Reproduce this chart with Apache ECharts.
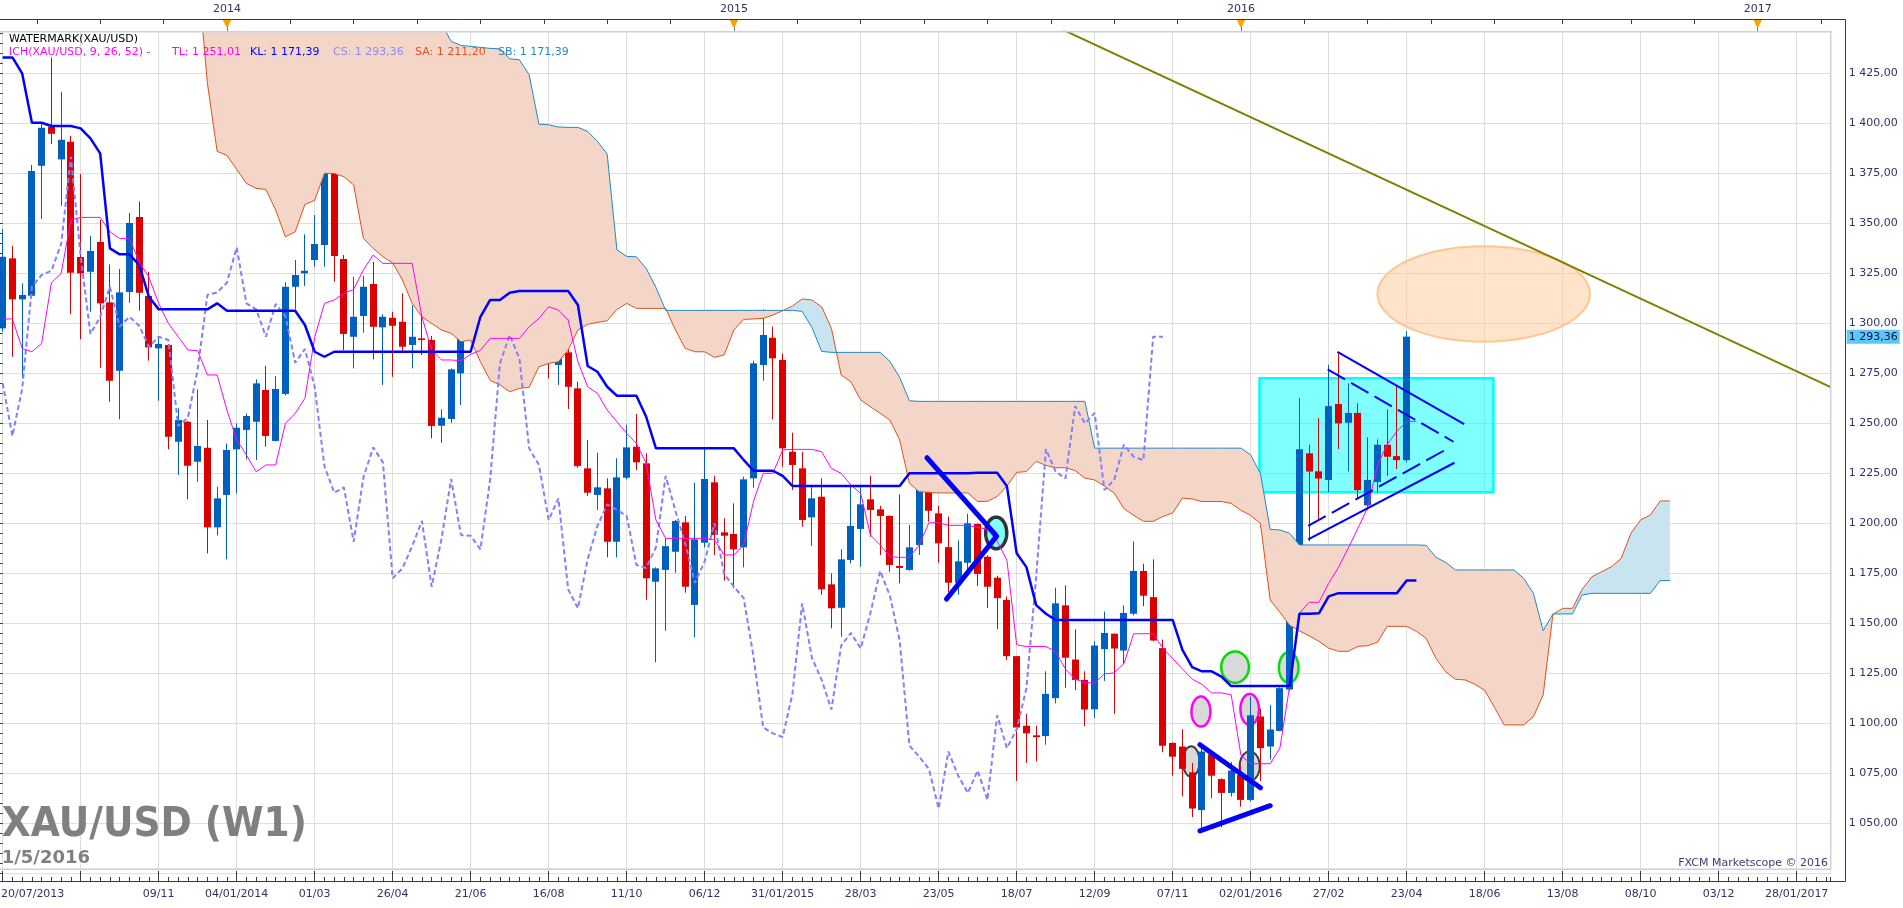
<!DOCTYPE html>
<html><head><meta charset="utf-8">
<script src="https://cdn.jsdelivr.net/npm/echarts@6/dist/echarts.min.js"></script>
<style>html,body{margin:0;padding:0;background:#fff;}#c{width:1903px;height:908px;}</style>
</head><body><div id="c"></div>
<script>
// ---------- axis labels ----------
const xLabelIdx = [0,16,24,32,40,48,56,64,72,80,88,96,104,112,120,128,136,144,152,160,168,176,184];
const xLabelTxt = ['20/07/2013','09/11','04/01/2014','01/03','26/04','21/06','16/08','11/10','06/12','31/01/2015','28/03','23/05','18/07','12/09','07/11','02/01/2016','27/02','23/04','18/06','13/08','08/10','03/12','28/01/2017'];
const topTickIdx = [3.5,10,16.5,23,29.5,36,42.5,49,55.5,62,68.5,75,81.5,88,94.5,101,107.5,114,120.5,127,133.5,140,146.5,153,160,167,173.5,180,186.5];
const yearIdx = [23,75,127,180];
const yearTxt = ['2014','2015','2016','2017'];

// ---------- weekly candles (index 0 = week of 20/07/2013) ----------
const open = [1297.5,1332.5,1312.0,1313.8,1378.8,1398.3,1382.0,1390.8,1333.2,1325.8,
1340.7,1310.5,1276.3,1315.7,1353.2,1313.7,1287.5,1289.2,1240.8,1250.8,
1230.8,1237.8,1198.0,1214.2,1237.0,1246.7,1250.8,1266.7,1241.2,1264.7,
1318.3,1325.0,1331.7,1339.2,1382.2,1332.2,1293.3,1303.7,1319.7,1298.0,
1302.8,1300.8,1289.2,1292.5,1291.7,1248.8,1252.2,1275.0,1313.8,1314.2,
1320.0,1338.0,1310.0,1306.7,1293.0,1308.5,1302.7,1279.2,1285.5,1267.5,
1227.5,1214.2,1217.5,1190.8,1222.8,1238.3,1230.0,1170.8,1176.7,1185.8,
1200.5,1159.2,1190.3,1220.5,1195.5,1194.7,1188.0,1222.5,1279.2,1292.8,
1281.7,1235.8,1227.5,1203.0,1213.3,1169.5,1157.8,1181.7,1197.2,1212.0,
1207.0,1203.7,1178.7,1176.7,1189.2,1223.3,1205.0,1188.1,1170.3,1180.3,
1199.7,1183.3,1172.8,1161.7,1133.6,1098.8,1094.0,1093.6,1112.6,1159.0,
1131.9,1121.7,1107.0,1137.1,1144.8,1136.4,1154.8,1176.2,1163.1,1137.6,
1090.2,1088.4,1075.5,1056.6,1084.5,1072.1,1065.2,1074.1,1061.7,1103.4,
1088.4,1096.2,1116.9,1172.4,1235.0,1226.0,1221.7,1259.7,1250.3,1255.2,
1209.0,1220.7,1239.3,1233.6,1231.6];
const high = [1347.2,1338.7,1320.0,1379.2,1400.0,1433.0,1415.8,1393.8,1374.7,1343.7,
1351.7,1329.5,1327.2,1355.2,1361.0,1325.7,1292.8,1289.7,1257.5,1251.3,
1267.0,1251.7,1218.3,1240.0,1250.0,1255.0,1272.0,1278.7,1273.7,1320.5,
1331.7,1344.5,1354.2,1387.2,1391.7,1334.2,1323.3,1323.7,1330.8,1304.5,
1305.8,1315.0,1309.0,1305.0,1293.7,1257.0,1277.5,1321.7,1325.0,1333.3,
1344.7,1339.2,1315.8,1311.7,1322.0,1318.7,1303.3,1295.7,1289.2,1270.8,
1241.7,1235.3,1222.5,1232.5,1249.2,1254.7,1235.0,1178.0,1192.5,1201.7,
1203.7,1220.3,1237.5,1223.7,1202.5,1210.0,1223.3,1281.3,1307.0,1298.3,
1285.0,1245.3,1235.8,1219.2,1222.5,1175.0,1187.0,1218.7,1218.7,1223.7,
1208.7,1204.0,1214.5,1199.2,1224.0,1231.7,1208.7,1203.4,1191.4,1204.8,
1200.0,1184.1,1173.8,1163.4,1133.6,1104.8,1098.8,1126.0,1167.8,1169.0,
1147.0,1126.0,1141.0,1155.9,1145.0,1159.0,1191.0,1179.8,1182.0,1141.9,
1090.5,1097.0,1080.2,1089.3,1086.0,1072.5,1080.7,1079.0,1113.4,1107.4,
1109.1,1118.0,1173.8,1262.6,1239.3,1252.6,1279.3,1285.0,1270.0,1260.0,
1243.0,1242.0,1257.0,1268.5,1296.0];
const low = [1295.8,1283.3,1272.5,1313.3,1352.2,1389.7,1358.8,1304.7,1292.0,1305.8,
1277.8,1260.8,1252.0,1310.3,1306.3,1281.3,1261.3,1237.0,1224.2,1212.0,
1220.8,1185.0,1194.0,1182.0,1215.0,1232.0,1231.7,1238.3,1241.0,1264.0,
1307.0,1318.7,1328.3,1328.3,1320.8,1286.7,1277.5,1295.3,1282.0,1269.2,
1273.3,1286.3,1277.5,1284.2,1242.5,1240.3,1250.3,1259.2,1305.0,1307.5,
1314.2,1292.5,1288.3,1280.8,1282.5,1292.3,1272.5,1269.2,1257.2,1227.8,
1213.7,1206.7,1183.0,1183.0,1222.0,1226.7,1161.7,1130.5,1146.3,1175.3,
1165.3,1143.0,1188.0,1184.2,1171.3,1167.5,1178.0,1217.8,1271.3,1252.0,
1228.3,1216.7,1198.3,1188.7,1164.2,1147.5,1143.3,1180.0,1178.3,1193.3,
1184.2,1175.8,1170.0,1176.3,1184.2,1200.8,1180.3,1165.5,1164.3,1173.8,
1168.6,1157.6,1147.1,1131.6,1071.2,1080.2,1081.0,1089.3,1110.0,1117.8,
1116.6,1098.6,1102.6,1121.2,1104.8,1129.8,1154.0,1158.6,1141.0,1085.5,
1073.8,1063.4,1053.1,1046.2,1062.6,1048.0,1063.4,1058.3,1060.9,1071.2,
1081.9,1096.0,1116.0,1164.3,1191.0,1201.5,1215.6,1237.1,1226.0,1212.3,
1206.8,1215.1,1223.8,1227.1,1230.5];
const close = [1333.3,1312.0,1314.2,1376.2,1397.8,1394.8,1391.8,1325.3,1325.0,1336.2,
1310.0,1271.3,1315.5,1350.2,1315.3,1288.0,1289.7,1243.3,1251.7,1228.8,
1238.7,1198.0,1212.5,1236.7,1247.8,1253.7,1270.0,1243.7,1267.2,1318.3,
1324.2,1326.3,1339.7,1383.3,1333.7,1294.7,1303.3,1318.3,1298.3,1303.3,
1298.8,1288.3,1293.3,1291.7,1248.7,1252.8,1277.0,1314.2,1315.5,1320.3,
1338.0,1310.0,1307.0,1293.3,1309.7,1303.7,1280.3,1287.2,1268.3,1228.6,
1215.3,1218.0,1190.8,1223.0,1238.0,1230.5,1172.5,1177.5,1188.6,1201.2,
1168.3,1192.0,1222.2,1194.2,1193.8,1187.0,1222.0,1280.0,1294.2,1282.5,
1237.5,1229.2,1201.7,1212.5,1167.0,1157.5,1182.0,1198.7,1209.5,1206.7,
1203.7,1179.2,1177.7,1188.0,1223.7,1206.3,1190.0,1170.3,1181.0,1200.0,
1174.7,1168.3,1162.6,1133.6,1097.9,1095.0,1093.1,1114.7,1160.0,1132.8,
1121.7,1106.9,1138.9,1145.2,1137.4,1155.2,1176.2,1163.8,1141.4,1088.8,
1083.3,1077.2,1057.4,1085.9,1073.8,1065.2,1076.4,1061.7,1104.0,1087.6,
1096.9,1117.6,1173.3,1237.1,1225.9,1222.4,1258.6,1250.0,1255.2,1216.6,
1221.7,1239.3,1233.3,1231.6,1293.36];

// ---------- Ichimoku lines ----------
const tenkan = [1302.2,1302.2,1287.5,1285.8,1290,1320.3,1325,1351.7,1353,1353,
1353,1345.8,1342.5,1342.5,1330.8,1323,1310,1300,1293.3,1286.7,
1286.3,1274.2,1274.2,1256.7,1241.7,1234.2,1225.8,1229.2,1229.2,1250,
1255,1262.5,1293,1310,1311.7,1315,1317,1326.7,1334.2,1330,
1330,1330,1330,1303.3,1286.7,1281.7,1281.7,1281.3,1284.5,1286.5,
1292.5,1292.5,1292.5,1292.5,1298.3,1302.5,1308.3,1306.7,1301.7,1280.8,
1268.3,1265,1256.7,1250.8,1245,1240,1230,1201.7,1192.5,1192.5,
1192.5,1192.5,1192.5,1191.7,1184.2,1184.2,1189.2,1210.8,1225,1225,
1236.7,1237,1237,1237,1235.8,1227.5,1225,1219.2,1215,1194.2,
1189.2,1183.3,1183,1183,1189.2,1200.3,1200.3,1199,1199,1199,
1198,1197,1191,1181.6,1139.3,1138.4,1138.4,1138.4,1135.9,1127.2,
1122.1,1120.3,1120.3,1124.7,1125.2,1129.8,1144.8,1144.8,1144.8,1137.6,
1132.4,1127.2,1122.1,1119.5,1115.2,1115.2,1114.3,1084.1,1079.8,1079.8,
1079.8,1087.6,1118.6,1155,1160.5,1160.5,1170,1178,1187.5,1197.5,
1208,1229,1239.5,1246,1251.01,1251.01];
const kijun = [1433,1433,1425,1400.3,1400.3,1398.7,1398.7,1398.7,1397.5,1392.5,
1385,1337.5,1334.5,1334.5,1329.2,1313.3,1307,1307,1307,1307,
1307,1307,1310,1306.3,1306.3,1306.3,1306.3,1306.3,1306.3,1306.3,
1306.3,1299.2,1285.8,1283.3,1285.8,1285.8,1285.8,1285.8,1285.8,1285.8,
1285.8,1285.8,1285.8,1285.8,1285.8,1285.8,1285.8,1285.8,1285.8,1303.3,
1311.7,1311.7,1315.3,1316.2,1316.2,1316.2,1316.2,1316.2,1316.2,1309.2,
1278.7,1275.8,1268.3,1263.8,1263.8,1263.8,1253.3,1237.5,1237.5,1237.5,
1237.5,1237.5,1237.5,1237.5,1237.5,1237.5,1231.7,1226.3,1226.3,1226.3,
1223.7,1218.7,1218.7,1218.7,1218.7,1218.7,1218.7,1218.7,1218.7,1218.7,
1218.7,1218.7,1218.7,1225,1225,1225,1225,1225,1225,1225,
1225.3,1225.3,1225.3,1218.6,1185,1178.1,1159.1,1154.8,1151.7,1151.7,
1151.7,1151.7,1151.7,1151.7,1151.7,1151.7,1151.7,1151.7,1151.7,1151.7,
1151.7,1136.7,1128.1,1126,1126,1123.4,1118.6,1118.6,1118.6,1118.6,
1118.6,1118.6,1118.6,1154.8,1154.8,1155,1163.5,1165.1,1165.1,1165.1,
1165.1,1165.1,1165.1,1165.1,1171.39,1171.39];
const chikou = [1270.0,1243.7,1267.2,1318.3,1324.2,1326.3,1339.7,1383.3,1333.7,1294.7,
1303.3,1318.3,1298.3,1303.3,1298.8,1288.3,1293.3,1291.7,1248.7,1252.8,
1277.0,1314.2,1315.5,1320.3,1338.0,1310.0,1307.0,1293.3,1309.7,1303.7,
1280.3,1287.2,1268.3,1228.6,1215.3,1218.0,1190.8,1223.0,1238.0,1230.5,
1172.5,1177.5,1188.6,1201.2,1168.3,1192.0,1222.2,1194.2,1193.8,1187.0,
1222.0,1280.0,1294.2,1282.5,1237.5,1229.2,1201.7,1212.5,1167.0,1157.5,
1182.0,1198.7,1209.5,1206.7,1203.7,1179.2,1177.7,1188.0,1223.7,1206.3,
1190.0,1170.3,1181.0,1200.0,1174.7,1168.3,1162.6,1133.6,1097.9,1095.0,
1093.1,1114.7,1160.0,1132.8,1121.7,1106.9,1138.9,1145.2,1137.4,1155.2,
1176.2,1163.8,1141.4,1088.8,1083.3,1077.2,1057.4,1085.9,1073.8,1065.2,
1076.4,1061.7,1104.0,1087.6,1096.9,1117.6,1173.3,1237.1,1225.9,1222.4,
1258.6,1250.0,1255.2,1216.6,1221.7,1239.3,1233.3,1231.6,1293.36,1293.36];
const senkouA = [1490,1490,1490,1490,1490,1490,1490,1490,1490,1490,
1490,1490,1490,1490,1490,1490,1490,1490,1490,1490,
1476,1420,1386,1384,1377,1370,1367.5,1367,1356.7,1343.3,
1345.8,1359.5,1361.5,1375,1375,1373.3,1369.2,1342.5,1337.5,1333.3,
1330.3,1321.7,1310,1303.3,1300,1296.7,1295,1290.8,1291.7,1280.8,
1271.5,1269.2,1265.8,1267.5,1268,1278.3,1280,1280.8,1286.7,1296.7,
1299.5,1300.5,1301.3,1307,1310,1307.5,1307.5,1307.5,1307.5,1296.7,
1287.5,1285.8,1285.8,1283,1284.2,1296.7,1302,1302.2,1302.5,1304.2,
1306.3,1308.7,1312.2,1311.7,1308.3,1297.5,1274.2,1270.8,1261.7,1258.3,
1255,1251.7,1241.7,1220,1215.8,1215.5,1215.2,1215.2,1215.2,1215.2,
1210.9,1211,1213.4,1218.6,1225.5,1225.9,1231,1229,1227.8,1227.8,
1226.4,1222.6,1221.7,1218.6,1215.2,1207.4,1204,1201,1201,1203.4,
1205.2,1212.6,1212.2,1210.9,1210.9,1210.9,1210,1206.5,1204,1200,
1161.7,1155.5,1149,1146.2,1143.8,1141,1137.6,1136,1136,1138.5,
1138.8,1140.5,1148.5,1148.5,1148.5,1146,1142.5,1132.5,1125.8,1122,
1121.7,1119.5,1116.5,1108,1099.2,1099.2,1099.2,1103.3,1114.2,1154.5,
1157.5,1157.5,1167,1173.3,1175.8,1178.3,1182.5,1195,1201.7,1204.2,
1211.2,1211.2];
const senkouB = [1490,1490,1490,1490,1490,1490,1490,1490,1490,1490,
1490,1490,1490,1490,1490,1490,1490,1490,1490,1490,
1490,1490,1490,1490,1490,1490,1490,1490,1490,1490,
1490,1490,1490,1490,1490,1490,1490,1490,1490,1490,
1490,1490,1490,1490,1490,1450,1441,1439,1438.5,1438,
1437.5,1437.3,1432.3,1431.8,1424.3,1399.6,1399.3,1398.2,1398,1398,
1396,1391,1384.7,1336.8,1333.5,1333.3,1327.5,1318,1306.5,1306.5,
1306.5,1306.5,1306.5,1306.5,1306.5,1306.5,1306.5,1306.5,1306.5,1306.5,
1306.5,1306.5,1306,1298,1286,1285.5,1285.5,1285.5,1285.5,1285.5,
1285.5,1281,1273,1261.3,1261,1261,1261,1261,1261,1261,
1261,1261,1261,1261,1261,1261,1261,1261,1261,1261,
1261,1261,1237.6,1237.6,1237.6,1237.6,1237.6,1237.6,1237.6,1237.6,
1237.6,1237.6,1237.6,1237.6,1237.6,1237.6,1237.6,1237.6,1234.2,1225,
1197,1196.7,1195,1189.2,1189.2,1189.2,1189.2,1189.2,1189.2,1189.2,
1189.2,1189.2,1189.2,1189.2,1189.2,1189.2,1189,1183,1180.5,1176.7,
1176.7,1176.7,1176.7,1176.7,1176.7,1176.7,1172.5,1165,1146.3,1154.7,
1154.7,1154.7,1164.2,1165,1165,1165,1165,1165,1165,1165,
1171.39,1171.39];

// ---------- drawings (data coordinates: [week index, price]) ----------
const trendLine = [[105, 1455.3], [187.49, 1268.1]];
const triUpper = [[136.9, 1285.8], [149.9, 1249.6]];
const triLower = [[133.9, 1192.0], [148.9, 1230.3]];
const triUpperDash = [[135.9, 1277.0], [148.8, 1240.8]];
const triLowerDash = [[133.9, 1198.7], [147.8, 1236.3]];
const vDown = [[94.8, 1232.8], [101.8, 1194.5]];
const vUp = [[96.8, 1162.1], [101.95, 1193.6]];
const pennDown = [[122.8, 1089.3], [129.0, 1067.8]];
const pennUp = [[122.8, 1046.2], [130.0, 1058.8]];
const boxZone = [128.9, 1272.5, 152.9, 1215.5];
// [centre week, centre price, half-width (weeks), half-height (price), kind]
const ellipses = [
  [151.9, 1314.7, 10.9, 23.9, 'peach'],
  [101.9, 1195.2, 1.08, 7.9, 'ring'],
  [121.9, 1080.9, 0.85, 7.6, 'grey'],
  [127.9, 1078.6, 1.03, 7.3, 'grey'],
  [122.9, 1105.9, 0.97, 7.5, 'pink'],
  [127.9, 1107.0, 0.95, 7.7, 'pink'],
  [126.4, 1128.1, 1.42, 7.8, 'green'],
  [131.9, 1127.9, 1.0, 7.6, 'green']
];
const lastClose = close[close.length - 1];

// ---------- styles ----------
const BLUE = '#0060c0', RED = '#dd0000';
const X_MIN = 0, X_MAX = 187.49, Y_MIN = 1025, Y_MAX = 1445.85;
const FONT = 'DejaVu Sans';
const TXT = '#323264';
const ellStyle = {
  peach: {fill: 'rgba(255,200,150,0.5)', stroke: 'rgba(255,190,130,0.85)', lineWidth: 2},
  ring:  {fill: '#80ffff', stroke: '#333333', lineWidth: 3.5},
  grey:  {fill: '#d9d9d9', stroke: '#3c3c3c', lineWidth: 2},
  pink:  {fill: '#d9d9d9', stroke: '#ff00ff', lineWidth: 2.5},
  green: {fill: '#d9d9d9', stroke: '#00e000', lineWidth: 2.5}
};

function fmt(v) {
  const s = Number(v).toFixed(2); const p = s.split('.');
  const ip = p[0].length > 3 ? p[0].slice(0, p[0].length - 3) + ' ' + p[0].slice(-3) : p[0];
  return ip + ',' + p[1];
}
const pts = arr => arr.map((v, i) => [i, v]);

function clipPoly(poly, r) {
  const x0 = r.x, x1 = r.x + r.width, y0 = r.y, y1 = r.y + r.height;
  const planes = [
    [p => p[0] >= x0, (a, b) => { const t = (x0 - a[0]) / (b[0] - a[0]); return [x0, a[1] + t * (b[1] - a[1])]; }],
    [p => p[0] <= x1, (a, b) => { const t = (x1 - a[0]) / (b[0] - a[0]); return [x1, a[1] + t * (b[1] - a[1])]; }],
    [p => p[1] >= y0, (a, b) => { const t = (y0 - a[1]) / (b[1] - a[1]); return [a[0] + t * (b[0] - a[0]), y0]; }],
    [p => p[1] <= y1, (a, b) => { const t = (y1 - a[1]) / (b[1] - a[1]); return [a[0] + t * (b[0] - a[0]), y1]; }]
  ];
  let out = poly;
  for (const [inside, inter] of planes) {
    const inp = out; out = [];
    if (!inp.length) break;
    for (let i = 0; i < inp.length; i++) {
      const cur = inp[i], prev = inp[(i + inp.length - 1) % inp.length];
      const ci = inside(cur), pi = inside(prev);
      if (ci) { if (!pi) out.push(inter(prev, cur)); out.push(cur); }
      else if (pi) out.push(inter(prev, cur));
    }
  }
  return out;
}

function cloudRuns() {
  const n = Math.min(senkouA.length, senkouB.length);
  const runs = []; let cur = null;
  for (let i = 0; i < n; i++) {
    const d = senkouB[i] - senkouA[i];
    if (!cur) { cur = {sign: d >= 0 ? 1 : -1, a: [[i, senkouA[i]]], b: [[i, senkouB[i]]]}; continue; }
    const sign = d > 0 ? 1 : (d < 0 ? -1 : cur.sign);
    if (sign !== cur.sign) {
      const dp = senkouB[i - 1] - senkouA[i - 1];
      const t = dp / (dp - d);
      const xm = i - 1 + t, vm = senkouA[i - 1] + (senkouA[i] - senkouA[i - 1]) * t;
      cur.a.push([xm, vm]); cur.b.push([xm, vm]); runs.push(cur);
      cur = {sign, a: [[xm, vm], [i, senkouA[i]]], b: [[xm, vm], [i, senkouB[i]]]};
    } else { cur.a.push([i, senkouA[i]]); cur.b.push([i, senkouB[i]]); }
  }
  runs.push(cur);
  return runs;
}

const lineSeries = (data, style, z) => ({type: 'line', data, showSymbol: false, symbol: 'none', silent: true, z, lineStyle: style, animation: false, clip: true});

const chart = echarts.init(document.getElementById('c'), null, {renderer: 'canvas'});
const tickStyle = {color: '#3a3a3a', width: 1};
const option = {
  animation: false,
  backgroundColor: '#ffffff',
  grid: {left: 2.67, right: 72.3, top: 31.7, bottom: 34.7, containLabel: false, outerBoundsMode: 'none', show: false},
  xAxis: [
    {type: 'value', min: X_MIN, max: X_MAX, interval: 8, position: 'bottom', offset: 8.7,
     axisLine: {show: false}, axisTick: {show: true, inside: true, length: 11, lineStyle: tickStyle},
     splitLine: {show: true, lineStyle: {color: '#dedede', width: 1}},
     axisLabel: {show: true, margin: 7, hideOverlap: false, showMaxLabel: false, showMinLabel: true,
       fontFamily: FONT, fontSize: 11, color: TXT,
       formatter: v => { const j = xLabelIdx.indexOf(v); if (j < 0) return ''; return j === 0 ? '{f|' + xLabelTxt[j] + '}' : xLabelTxt[j]; },
       rich: {f: {padding: [0, 0, 0, 60], fontFamily: FONT, fontSize: 11, color: TXT}}}},
    {type: 'value', min: X_MIN, max: X_MAX, interval: 1, position: 'bottom', offset: 8.7,
     axisLine: {show: false}, axisTick: {show: true, inside: true, length: 5, lineStyle: tickStyle},
     axisLabel: {show: false}, splitLine: {show: false}},
    {type: 'value', min: X_MIN, max: X_MAX, position: 'top', offset: 12.7,
     axisLine: {show: false}, axisTick: {show: true, inside: true, length: 5, customValues: topTickIdx, lineStyle: tickStyle},
     axisLabel: {show: true, customValues: yearIdx, margin: 4, fontFamily: FONT, fontSize: 11, color: TXT, hideOverlap: false,
       formatter: v => { const j = yearIdx.indexOf(v); return j < 0 ? '' : yearTxt[j]; }},
     splitLine: {show: false}},
    {type: 'value', min: X_MIN, max: X_MAX, position: 'top', offset: 12.7,
     axisLine: {show: false}, axisTick: {show: true, inside: true, length: 12.7, customValues: yearIdx, lineStyle: {color: '#777', width: 1}},
     axisLabel: {show: true, inside: true, customValues: yearIdx, margin: 0, fontFamily: FONT, fontSize: 11, color: '#ffa000', verticalAlign: 'top', hideOverlap: false,
       formatter: () => '\u25BC'},
     splitLine: {show: false}}
  ],
  yAxis: [
    {type: 'value', min: Y_MIN, max: Y_MAX, interval: 25, position: 'right', offset: 15,
     axisLine: {show: false}, axisTick: {show: true, inside: true, length: 14, lineStyle: tickStyle},
     axisLabel: {show: true, showMinLabel: false, showMaxLabel: false, margin: 3, fontFamily: FONT, fontSize: 11, color: TXT, formatter: fmt, hideOverlap: false},
     splitLine: {show: true, lineStyle: {color: '#dedede', width: 1}}},
    {type: 'value', min: Y_MIN, max: Y_MAX, interval: 5, position: 'right', offset: 15,
     axisLine: {show: false}, axisTick: {show: true, inside: true, length: 6, lineStyle: tickStyle},
     axisLabel: {show: false}, splitLine: {show: false}},
    {type: 'value', min: Y_MIN, max: Y_MAX, position: 'right', offset: 15,
     axisLine: {show: false}, axisTick: {show: false},
     axisLabel: {show: true, customValues: [lastClose], margin: 1, formatter: fmt, backgroundColor: '#5ac8fa',
       padding: [2, 2, 1, 2], fontFamily: FONT, fontSize: 11, color: '#101030', hideOverlap: false},
     splitLine: {show: false}}
  ],
  series: [
    // cyan zone
    {type: 'custom', silent: true, z: 1, data: [boxZone],
     renderItem: (params, api) => {
       const p0 = api.coord([api.value(0), api.value(1)]), p1 = api.coord([api.value(2), api.value(3)]);
       return {type: 'rect', shape: {x: p0[0], y: p0[1], width: p1[0] - p0[0], height: p1[1] - p0[1]},
         style: {fill: 'rgba(0,255,255,0.5)', stroke: '#00ffff', lineWidth: 2.5}};
     }},
    // ellipses
    {type: 'custom', silent: true, z: 1, data: ellipses.map(e => [e[0], e[1], e[2], e[3]]),
     renderItem: (params, api) => {
       const c = api.coord([api.value(0), api.value(1)]);
       const s = api.size([api.value(2), api.value(3)]);
       const st = ellStyle[ellipses[params.dataIndex][4]];
       const poly = [];
       for (let j = 0; j < 90; j++) { const a = j / 90 * Math.PI * 2; poly.push([c[0] + s[0] * Math.cos(a), c[1] + s[1] * Math.sin(a)]); }
       return {type: 'polygon', shape: {points: poly}, style: {fill: st.fill, stroke: st.stroke, lineWidth: st.lineWidth}};
     }},
    // candles
    {type: 'custom', silent: true, z: 2, clip: false,
     data: open.map((o, i) => [i, o, high[i], low[i], close[i]]),
     renderItem: (params, api) => {
       const k = api.value(0), o = api.value(1), h = api.value(2), l = api.value(3), c = api.value(4);
       const po = api.coord([k, o]);
       const yc = api.coord([k, c])[1], yh = api.coord([k, h])[1], yl = api.coord([k, l])[1];
       const xc = Math.floor(po[0]) + 0.5;
       const col = c >= o ? BLUE : RED;
       const top = Math.min(po[1], yc), bot = Math.max(po[1], yc);
       return {type: 'group', children: [
         {type: 'line', shape: {x1: xc, y1: yh, x2: xc, y2: yl}, style: {stroke: col, lineWidth: 1}},
         {type: 'rect', shape: {x: xc - 3.5, y: top, width: 7, height: Math.max(bot - top, 1)}, style: {fill: col}}
       ]};
     }},
    // kumo cloud (multiply blend, like the reference)
    {type: 'custom', silent: true, z: 3, clip: false, data: [[0, 1200]],
     renderItem: (params, api) => {
       const r = params.coordSys;
       const rect = {x: r.x, y: r.y, width: r.width, height: r.height};
       const children = [];
       cloudRuns().forEach(run => {
         const poly = run.a.concat(run.b.slice().reverse()).map(p => api.coord(p));
         const cp = clipPoly(poly, rect);
         if (cp.length > 2) children.push({type: 'polygon', shape: {points: cp},
           style: {fill: run.sign > 0 ? '#f4d6c8' : '#c8e4f0', blend: 'multiply'}});
       });
       return {type: 'group', children};
     }},
    lineSeries(pts(senkouA), {color: '#e0501a', width: 1}, 4),
    lineSeries(pts(senkouB), {color: '#1e88c8', width: 1}, 4),
    lineSeries(pts(chikou), {color: '#8080ff', width: 2, type: [5, 3]}, 4),
    lineSeries(pts(tenkan), {color: '#ff00ff', width: 1}, 4),
    lineSeries(pts(kijun), {color: '#0000ff', width: 2.5}, 4),
    lineSeries(trendLine, {color: '#808000', width: 2}, 5),
    lineSeries(triUpper, {color: '#0000ff', width: 2}, 5),
    lineSeries(triLower, {color: '#0000ff', width: 2}, 5),
    lineSeries(triUpperDash, {color: '#0000ff', width: 2, type: [20, 7]}, 5),
    lineSeries(triLowerDash, {color: '#0000ff', width: 2, type: [20, 7]}, 5),
    lineSeries(vDown, {color: '#0000ff', width: 5, cap: 'round'}, 5),
    lineSeries(vUp, {color: '#0000ff', width: 5, cap: 'round'}, 5),
    lineSeries(pennDown, {color: '#0000ff', width: 5, cap: 'round'}, 5),
    lineSeries(pennUp, {color: '#0000ff', width: 5, cap: 'round'}, 5)
  ],
  graphic: [
    {type: 'polyline', z: 60, silent: true, shape: {points: [[0, 31.7], [1830.7, 31.7], [1830.7, 869.3], [0, 869.3]]},
     style: {fill: null, stroke: '#c8d1dc', lineWidth: 1.5}},
    {type: 'polyline', z: 60, silent: true, shape: {points: [[0, 19.5], [1845.5, 19.5], [1845.5, 881.5], [0, 881.5]]},
     style: {fill: null, stroke: '#3a3a3a', lineWidth: 1}},
    {type: 'text', z: 100, silent: true, x: 9, y: 39.5, style: {text: 'WATERMARK(XAU/USD)', fill: '#000', font: '11px "DejaVu Sans"', verticalAlign: 'middle'}},
    {type: 'text', z: 100, silent: true, x: 9, y: 52, style: {text: 'ICH(XAU/USD, 9, 26, 52) -', fill: '#ff00ff', font: '11px "DejaVu Sans"', verticalAlign: 'middle'}},
    {type: 'text', z: 100, silent: true, x: 172, y: 52, style: {text: 'TL: ' + fmt(tenkan[144]), fill: '#ff00ff', font: '11px "DejaVu Sans"', verticalAlign: 'middle'}},
    {type: 'text', z: 100, silent: true, x: 250, y: 52, style: {text: 'KL: ' + fmt(kijun[144]), fill: '#0000ff', font: '11px "DejaVu Sans"', verticalAlign: 'middle'}},
    {type: 'text', z: 100, silent: true, x: 333, y: 52, style: {text: 'CS: ' + fmt(chikou[118]), fill: '#8c8cff', font: '11px "DejaVu Sans"', verticalAlign: 'middle'}},
    {type: 'text', z: 100, silent: true, x: 415, y: 52, style: {text: 'SA: ' + fmt(senkouA[170]), fill: '#e6501e', font: '11px "DejaVu Sans"', verticalAlign: 'middle'}},
    {type: 'text', z: 100, silent: true, x: 498, y: 52, style: {text: 'SB: ' + fmt(senkouB[170]), fill: '#1e8cd2', font: '11px "DejaVu Sans"', verticalAlign: 'middle'}},
    {type: 'text', z: 100, silent: true, x: 1.7, y: 825.3, scaleX: 0.94, style: {text: 'XAU/USD (W1)', fill: '#808080', font: 'bold 40px "DejaVu Sans"', verticalAlign: 'middle'}},
    {type: 'text', z: 100, silent: true, x: 1.7, y: 858.3, style: {text: '1/5/2016', fill: '#808080', font: 'bold 18px "DejaVu Sans"', verticalAlign: 'middle'}},
    {type: 'text', z: 100, silent: true, x: 1828, y: 863, style: {text: 'FXCM Marketscope \u00A9 2016', fill: '#3d3d70', font: '11px "DejaVu Sans"', align: 'right', verticalAlign: 'middle'}}
  ]
};
chart.setOption(option);
</script>
</body></html>
